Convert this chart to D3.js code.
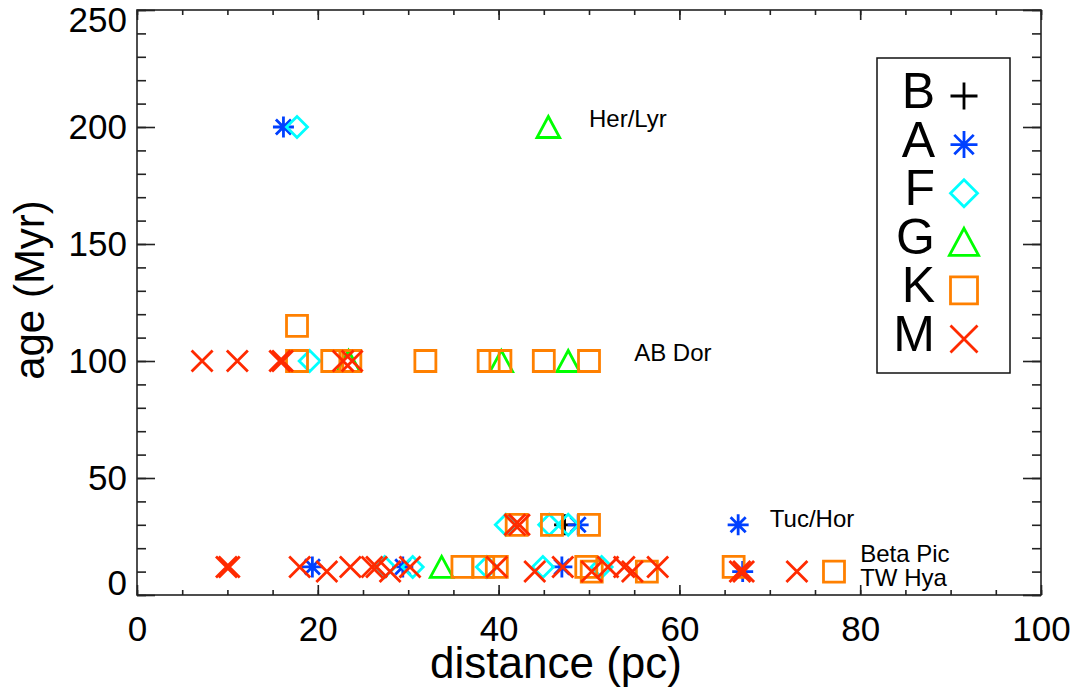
<!DOCTYPE html>
<meta charset="utf-8">
<style>
  body { margin: 0; background: #fff; }
  svg { display: block; }
  text { font-family: "Liberation Sans", Arial, Helvetica, sans-serif; fill: #000; }
  .frame { fill: none; stroke: #222; stroke-width: 1.6px; }
  .axis path.domain { display: none; }
  .axis line { stroke: #222; stroke-width: 1.6px; }
  .mark { fill: none; stroke-width: 2.8px; stroke-linecap: butt; }
</style>
<body>
<svg id="chart"></svg>
<script src="https://cdn.jsdelivr.net/npm/d3@7"></script>
<script>
  // [distance (pc), age (Myr)] per spectral type
  var bStars = [[47.3, 30]];
  var aStars = [[16.2, 200], [48.8, 30], [66.5, 30], [19.4, 12], [29.4, 12], [47.0, 12], [67.0, 10]];
  var fStars = [[17.7, 200], [19.1, 100], [40.8, 30], [45.6, 30], [47.7, 30],
    [27.4, 12], [30.5, 12], [38.7, 12], [44.9, 12], [51.4, 12]];
  var gStars = [[45.5, 200], [23.4, 100], [40.3, 100], [47.7, 100], [33.7, 12]];
  var kStars = [[17.7, 115], [17.7, 100], [21.6, 100], [23.6, 100], [31.9, 100], [38.9, 100],
    [40.2, 100], [45.0, 100], [50.0, 100], [42.0, 30], [45.9, 30], [50.0, 30],
    [36.0, 12], [38.3, 12], [39.8, 12], [49.7, 12], [50.3, 10], [56.4, 10], [66.0, 12], [77.1, 10]];
  var mStars = [[7.2, 100], [11.1, 100], [15.8, 100], [16.1, 100], [22.8, 100], [23.8, 100],
    [41.8, 30], [42.3, 30], [9.9, 12], [10.2, 12], [18.0, 12], [21.0, 10], [23.6, 12],
    [26.0, 12], [26.5, 12], [28.0, 10], [30.2, 12], [39.8, 12], [44.0, 10], [47.1, 12],
    [50.3, 10], [52.1, 12], [53.9, 12], [54.8, 10], [57.6, 12], [66.7, 10], [67.1, 10], [73.0, 10]];

  var typeNames = ["B", "A", "F", "G", "K", "M"];
  var typeColors = ["#000000", "#0040ff", "#00ffff", "#00ff00", "#ff8000", "#ff2a00"];
  var typeSymbols = ["plus", "asterisk", "diamond", "triangle", "square", "cross"];
  var typeData = [bStars, aStars, fStars, gStars, kStars, mStars];

  // moving group labels
  var groupNames = ["Her/Lyr", "AB Dor", "Tuc/Hor", "Beta Pic", "TW Hya"];
  var groupDist = [50, 55, 70, 80, 80];
  var groupAge = [200, 100, 29, 14, 4];

  var xTicks = [0, 20, 40, 60, 80, 100];
  var yTicks = [0, 50, 100, 150, 200, 250];

  var width = 1078,
    height = 692,
    plotLeft = 137, plotRight = 1041, plotTop = 10, plotBottom = 595;

  var svg = d3.select("#chart")
    .attr("width", width)
    .attr("height", height);

  var x = d3.scaleLinear().domain([0, 100]).range([plotLeft, plotRight]);
  var y = d3.scaleLinear().domain([0, 250]).range([plotBottom, plotTop]);

  function symbolPath(type, s) {
    var h = s / 2;
    if (type == "plus") return "M" + -h + ",0H" + h + "M0," + -h + "V" + h;
    if (type == "cross") return "M" + -h + "," + -h + "L" + h + "," + h + "M" + -h + "," + h + "L" + h + "," + -h;
    if (type == "asterisk") {
      var d = h * 0.72;
      return "M" + -h + ",0H" + h + "M0," + -h + "V" + h +
        "M" + -d + "," + -d + "L" + d + "," + d + "M" + -d + "," + d + "L" + d + "," + -d;
    }
    if (type == "diamond") return "M0," + -h + "L" + h + ",0L0," + h + "L" + -h + ",0Z";
    if (type == "triangle") return "M0," + -h + "L" + h * 1.08 + "," + h + "L" + -h * 1.08 + "," + h + "Z";
    if (type == "square") return "M" + -h + "," + -h + "H" + h + "V" + h + "H" + -h + "Z";
  }

  // frame
  svg.append("rect")
    .attr("class", "frame")
    .attr("x", plotLeft)
    .attr("y", plotTop)
    .attr("width", plotRight - plotLeft)
    .attr("height", plotBottom - plotTop);

  // ticks, all pointing inward
  svg.append("g").attr("class", "axis")
    .attr("transform", "translate(0," + plotBottom + ")")
    .call(d3.axisBottom(x).tickValues(d3.range(0, 101, 5)).tickSize(-5).tickFormat(""));
  svg.append("g").attr("class", "axis")
    .attr("transform", "translate(0," + plotTop + ")")
    .call(d3.axisTop(x).tickValues(d3.range(0, 101, 5)).tickSize(-5).tickFormat(""));
  svg.append("g").attr("class", "axis")
    .attr("transform", "translate(" + plotLeft + ",0)")
    .call(d3.axisLeft(y).tickValues(d3.range(0, 251, 10)).tickSize(-9).tickFormat(""));
  svg.append("g").attr("class", "axis")
    .attr("transform", "translate(" + plotRight + ",0)")
    .call(d3.axisRight(y).tickValues(d3.range(0, 251, 10)).tickSize(-9).tickFormat(""));

  var xAxis = svg.append("g").attr("class", "axis")
    .attr("transform", "translate(0," + plotBottom + ")")
    .call(d3.axisBottom(x).tickValues(xTicks).tickSize(-10).tickPadding(21));
  svg.append("g").attr("class", "axis")
    .attr("transform", "translate(0," + plotTop + ")")
    .call(d3.axisTop(x).tickValues(xTicks).tickSize(-10).tickFormat(""));
  var yAxis = svg.append("g").attr("class", "axis")
    .attr("transform", "translate(" + plotLeft + ",0)")
    .call(d3.axisLeft(y).tickValues(yTicks).tickSize(-18).tickPadding(10));
  svg.append("g").attr("class", "axis")
    .attr("transform", "translate(" + plotRight + ",0)")
    .call(d3.axisRight(y).tickValues(yTicks).tickSize(-18).tickFormat(""));

  svg.selectAll(".axis")
    .attr("font-size", null)
    .attr("font-family", null);
  xAxis.selectAll("text").style("font-size", "35px");
  yAxis.selectAll("text").style("font-size", "35px");

  // end labels sit inside the axis range
  yAxis.selectAll(".tick text")
    .attr("dy", function (d) {
      if (d == 0) return "-1px";
      if (d == 250) return "21px";
      return "0.32em";
    });

  // axis titles
  svg.append("text")
    .attr("x", 556)
    .attr("y", 678)
    .attr("text-anchor", "middle")
    .style("font-size", "44px")
    .text("distance (pc)");

  svg.append("text")
    .attr("transform", "translate(44,290)rotate(-90)")
    .attr("text-anchor", "middle")
    .style("font-size", "42px")
    .text("age (Myr)");

  // data points, drawn B first, M last
  typeData.forEach(function (data, i) {
    svg.append("g")
      .selectAll("path")
      .data(data)
      .enter().append("path")
      .attr("class", "mark")
      .attr("stroke", typeColors[i])
      .attr("d", symbolPath(typeSymbols[i], 21))
      .attr("transform", function (d) {
        return "translate(" + x(d[0]) + "," + y(d[1]) + ")";
      });
  });

  // group labels
  svg.append("g")
    .selectAll("text")
    .data(groupNames)
    .enter().append("text")
    .attr("x", function (d, i) { return x(groupDist[i]); })
    .attr("y", function (d, i) { return y(groupAge[i]); })
    .style("font-size", "24px")
    .text(function (d) { return d; });

  // legend
  var legend = svg.append("g");
  legend.append("rect")
    .attr("x", 877)
    .attr("y", 58)
    .attr("width", 133)
    .attr("height", 315)
    .attr("fill", "#fff")
    .attr("stroke", "#111")
    .attr("stroke-width", 1.5);

  var rows = legend.selectAll("g.row")
    .data(typeNames)
    .enter().append("g")
    .attr("class", "row")
    .attr("transform", function (d, i) { return "translate(0," + (i * 48.6) + ")"; });

  rows.append("text")
    .attr("x", 935)
    .attr("y", 108)
    .attr("text-anchor", "end")
    .style("font-size", "50px")
    .text(function (d) { return d; });

  rows.append("path")
    .attr("class", "mark")
    .attr("stroke-width", 3)
    .attr("stroke", function (d, i) { return typeColors[i]; })
    .attr("d", function (d, i) { return symbolPath(typeSymbols[i], 27); })
    .attr("transform", "translate(964,96)");
</script>
</body>
